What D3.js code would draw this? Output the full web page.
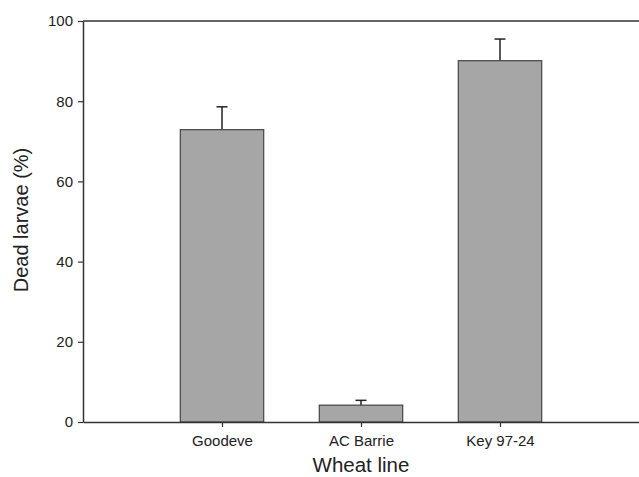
<!DOCTYPE html>
<html>
<head>
<meta charset="utf-8">
<script src="https://cdn.jsdelivr.net/npm/d3@7"></script>
<style>
  body { margin: 0; background: #fff; }
  text { font-family: "Liberation Sans", Arial, sans-serif; fill: #222; }
</style>
</head>
<body>
<div id="chart"></div>
<script>
var lines = ["Goodeve", "AC Barrie", "Key 97-24"];
var dead = [72.9, 4.2, 90.1];
var errUp = [5.7, 1.2, 5.4];
var yTicks = [0, 20, 40, 60, 80, 100];

var width = 639, height = 477;
var mLeft = 83, mRight = 639, mTop = 21, mBottom = 422;

var svg = d3.select("#chart").append("svg")
	.attr("width", width)
	.attr("height", height);

var x = d3.scalePoint()
	.domain(lines)
	.range([mLeft, mRight])
	.padding(1);

var y = d3.scaleLinear()
	.domain([0, 100])
	.range([mBottom, mTop]);

var barW = x.step() * 0.6;

var data = lines.map((d, i) => ({ name: d, value: dead[i], err: errUp[i] }));

// top frame line
svg.append("line")
	.attr("x1", mLeft).attr("x2", mRight)
	.attr("y1", y(100)).attr("y2", y(100))
	.attr("stroke", "#333").attr("stroke-width", 1.5);

// error bars, only the upper half shows
var eb = svg.append("g").attr("stroke", "#222").attr("stroke-width", 1.5);
eb.selectAll(".stem")
	.data(data)
	.enter().append("line")
	.attr("x1", d => x(d.name)).attr("x2", d => x(d.name))
	.attr("y1", d => y(d.value)).attr("y2", d => y(d.value + d.err));
eb.selectAll(".cap")
	.data(data)
	.enter().append("line")
	.attr("x1", d => x(d.name) - 5.5).attr("x2", d => x(d.name) + 5.5)
	.attr("y1", d => y(d.value + d.err)).attr("y2", d => y(d.value + d.err));

svg.selectAll("rect")
	.data(data)
	.enter()
	.append("rect")
	.attr("x", d => x(d.name) - barW / 2)
	.attr("y", d => y(d.value))
	.attr("width", barW)
	.attr("height", d => y(0) - y(d.value))
	.attr("fill", "#a6a6a6")
	.attr("stroke", "#444")
	.attr("stroke-width", 1.2);

var yAxis = svg.append("g")
	.attr("transform", `translate(${mLeft},0)`)
	.call(d3.axisLeft(y).tickValues(yTicks).tickSize(5).tickPadding(5).tickSizeOuter(0));
yAxis.selectAll("text").style("font-size", "15px");

var xAxis = svg.append("g")
	.attr("transform", `translate(0,${mBottom})`)
	.call(d3.axisBottom(x).tickSize(5).tickPadding(8).tickSizeOuter(0));
xAxis.selectAll("text").style("font-size", "15px");

svg.selectAll(".domain").attr("stroke", "#333").attr("stroke-width", 1.5);
svg.selectAll(".tick line").attr("stroke", "#333").attr("stroke-width", 1.2);
svg.selectAll(".tick text").attr("fill", "#222");

svg.append("text")
	.attr("x", x("AC Barrie"))
	.attr("y", 472)
	.attr("text-anchor", "middle")
	.style("font-size", "20.5px")
	.text("Wheat line");

svg.append("text")
	.attr("transform", `translate(28,220) rotate(-90)`)
	.attr("text-anchor", "middle")
	.style("font-size", "20px")
	.text("Dead larvae (%)");
</script>
</body>
</html>
